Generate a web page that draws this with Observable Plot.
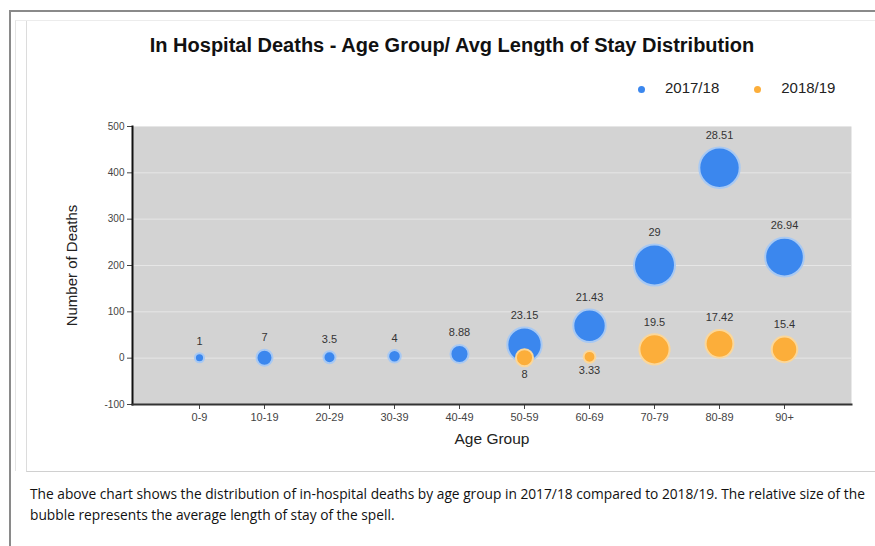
<!DOCTYPE html>
<html>
<head>
<meta charset="utf-8">
<script src="https://cdn.jsdelivr.net/npm/d3@7"></script>
<script src="https://cdn.jsdelivr.net/npm/@observablehq/plot@0.6"></script>
<style>
  html, body { margin: 0; padding: 0; background: #fff; width: 875px; height: 546px; overflow: hidden; }
  body { position: relative; font-family: "Liberation Sans", Arial, sans-serif; }
  .outer { position: absolute; left: 9px; top: 10px; width: 880px; height: 560px; border-left: 2px solid #8a8a8a; border-top: 2px solid #8a8a8a; box-sizing: border-box; }
  .inner1 { position: absolute; left: 15px; top: 20px; width: 880px; height: 451px; border-left: 1px solid #e4e4e4; border-top: 1px solid #ececec; box-sizing: border-box; }
  .inner2 { position: absolute; left: 26px; top: 21px; width: 880px; height: 451px; border-left: 1px solid #dcdcdc; border-bottom: 1px solid #d0d0d0; box-sizing: border-box; }
  .title { position: absolute; left: 0; width: 904px; top: 34px; text-align: center; font-weight: bold; font-size: 20px; color: #111; }
  .legend { position: absolute; top: 79px; left: 638px; font-size: 15px; color: #222; white-space: nowrap; }
  .legend span.sw { display: inline-block; width: 7px; height: 7px; border-radius: 50%; vertical-align: middle; margin-right: 20px; position: relative; top: 0px; }
  .legend .item { display: inline-block; margin-right: 35px; }
  #chart { position: absolute; left: 0; top: 110px; }
  .caption { position: absolute; left: 30px; top: 483px; font-family: "Open Sans", sans-serif; font-size: 13.75px; line-height: 21px; color: #111; white-space: nowrap; }
</style>
</head>
<body>
<div class="outer"></div>
<div class="inner1"></div>
<div class="inner2"></div>
<div class="title">In Hospital Deaths - Age Group/ Avg Length of Stay Distribution</div>
<div class="legend" id="legend"></div>
<div id="chart"></div>
<div class="caption">The above chart shows the distribution of in-hospital deaths by age group in 2017/18 compared to 2018/19. The relative size of the<br>bubble represents the average length of stay of the spell.</div>
<script>
// ---- data ----
const ageGroups = ["0-9", "10-19", "20-29", "30-39", "40-49", "50-59", "60-69", "70-79", "80-89", "90+"];
const deaths1718 = [1, 1, 2, 4, 9, 29, 70, 201, 411, 218];
const los1718 = [1, 7, 3.5, 4, 8.88, 23.15, 21.43, 29, 28.51, 26.94];
const groups1819 = ["50-59", "60-69", "70-79", "80-89", "90+"];
const deaths1819 = [1, 3, 19, 31, 19];
const los1819 = [8, 3.33, 19.5, 17.42, 15.4];
const seriesNames = ["2017/18", "2018/19"];
const seriesColors = ["#3b87ee", "#fcae3a"];
const haloColors = ["#a8c9f3", "#fbd79a"];
const yTicks = [-100, 0, 100, 200, 300, 400, 500];
const xTitle = "Age Group";
const yTitle = "Number of Deaths";

const s1 = ageGroups.map((g, i) => ({group: g, deaths: deaths1718[i], los: los1718[i], series: seriesNames[0]}));
const s2 = groups1819.map((g, i) => ({group: g, deaths: deaths1819[i], los: los1819[i], series: seriesNames[1]}));

// legend
document.getElementById("legend").innerHTML = seriesNames.map((n, i) =>
  `<span class="item"><span class="sw" style="background:${seriesColors[i]}"></span>${n}</span>`).join("");

const rOpts = {type: "linear", domain: [0, 29], range: [4, 20.5], clamp: true};
const rs = Plot.scale({r: rOpts});

// label placement: 2018/19 labels go below when 2017/18 bubble in same group is low (overlap)
const blueByGroup = new Map(s1.map(d => [d.group, d]));
function labelMarks(data, series) {
  return data.map(d => {
    const r = rs.apply(d.los);
    let below = false;
    if (series === 1) {
      const b = blueByGroup.get(d.group);
      below = b && b.deaths < 100;
    }
    return Plot.text([d], {
      x: "group", y: "deaths", text: d => String(d.los),
      dy: below ? r + 8 : -(r + 12),
      fontSize: 11, fill: "#333", fontFamily: "Liberation Sans, Arial, sans-serif"
    });
  });
}

const chart = Plot.plot({
  width: 875,
  height: 350,
  marginLeft: 132,
  marginRight: 24,
  marginTop: 16,
  marginBottom: 56,
  style: {fontFamily: "Liberation Sans, Arial, sans-serif", background: "transparent", overflow: "visible"},
  x: {type: "point", domain: ageGroups, padding: 1},
  y: {domain: [-100, 500]},
  r: rOpts,
  marks: [
    Plot.frame({fill: "#d3d3d3", stroke: null}),
    Plot.gridY(yTicks, {stroke: "#e6e6e6", strokeOpacity: 1, strokeWidth: 1}),
    Plot.axisY(yTicks, {tickSize: 5, tickPadding: 3, fontSize: 10, color: "#444", label: null, tickFormat: d => String(d)}),
    Plot.axisX({tickSize: 5, tickPadding: 4, fontSize: 11, color: "#444", label: null}),
    Plot.text([yTitle], {frameAnchor: "left", textAnchor: "middle", dx: -60, rotate: -90, fontSize: 15, fill: "#222"}),
    Plot.text([xTitle], {frameAnchor: "bottom", textAnchor: "middle", dy: 39, fontSize: 15.5, fill: "#222"}),
    Plot.frame({anchor: "left", stroke: "#111", strokeWidth: 2}),
    Plot.frame({anchor: "bottom", stroke: "#333", strokeWidth: 2}),
    Plot.dot(s1, {x: "group", y: "deaths", r: "los", fill: seriesColors[0], stroke: haloColors[0], strokeWidth: 2}),
    Plot.dot(s2, {x: "group", y: "deaths", r: "los", fill: seriesColors[1], stroke: haloColors[1], strokeWidth: 2}),
    ...labelMarks(s1, 0),
    ...labelMarks(s2, 1)
  ]
});
document.getElementById("chart").appendChild(chart);
</script>
</body>
</html>
